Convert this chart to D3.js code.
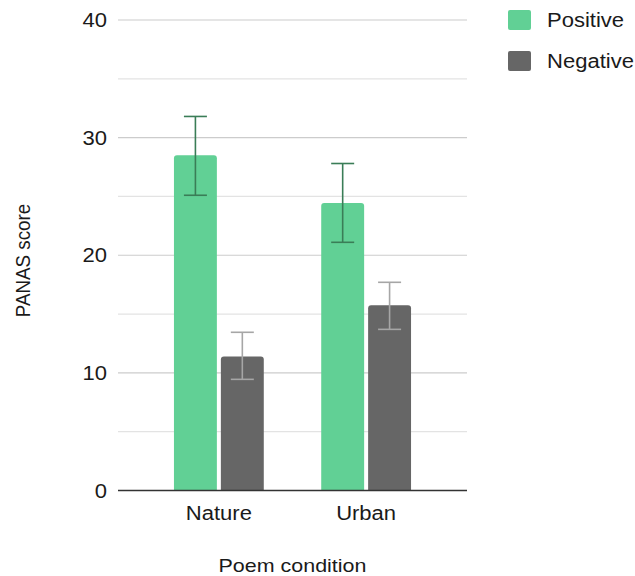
<!DOCTYPE html>
<html>
<head>
<meta charset="utf-8">
<script src="https://cdn.jsdelivr.net/npm/d3@7"></script>
<style>
  html, body { margin: 0; padding: 0; background: #fff; }
  svg { display: block; font-family: "Liberation Sans", Arial, Helvetica, sans-serif; }
</style>
</head>
<body>
<svg id="chart" width="635" height="576"></svg>
<script>
// PANAS scores by poem condition
const conditions = ["Nature", "Urban"];
const affects = ["Positive", "Negative"];
const positiveMeans = [28.5, 24.45];
const negativeMeans = [11.4, 15.75];
const positiveLow = [25.1, 21.1];
const positiveHigh = [31.8, 27.8];
const negativeLow = [9.45, 13.7];
const negativeHigh = [13.45, 17.7];
const yTicks = [0, 10, 20, 30, 40];
const yMinorTicks = [5, 15, 25, 35];

const colors = { Positive: "#61d095", Negative: "#666666" };
const errColors = { Positive: "#3a7d57", Negative: "#a6a6a6" };

const rows = conditions.map((c, i) => ({
  condition: c,
  values: [
    { key: "Positive", mean: positiveMeans[i], lo: positiveLow[i], hi: positiveHigh[i] },
    { key: "Negative", mean: negativeMeans[i], lo: negativeLow[i], hi: negativeHigh[i] }
  ]
}));

const svg = d3.select("#chart");
const plot = { left: 118, right: 467, top: 20, bottom: 490.5 };
const stretch = 1.13;   // horizontal text stretch
const fs = 19.5;

const y = d3.scaleLinear().domain([0, 40]).range([plot.bottom, plot.top]);
const x0 = d3.scaleBand().domain(conditions).range([plot.left, plot.right])
  .paddingInner(0.39).paddingOuter(0.38);
const x1 = d3.scaleBand().domain(affects).range([0, x0.bandwidth()]).paddingInner(0.085);

function label(g, x, yy, text, anchor, size) {
  return g.append("text")
    .attr("transform", `translate(${x},${yy}) scale(${stretch},1)`)
    .attr("text-anchor", anchor)
    .attr("font-size", size || fs)
    .attr("fill", "#1a1a1a")
    .text(text);
}

// gridlines
svg.append("g").selectAll("line.minor").data(yMinorTicks).join("line")
  .attr("x1", plot.left).attr("x2", plot.right)
  .attr("y1", d => y(d)).attr("y2", d => y(d))
  .attr("stroke", "#e3e3e3").attr("stroke-width", 1.2);
svg.append("g").selectAll("line.major").data(yTicks.filter(d => d > 0)).join("line")
  .attr("x1", plot.left).attr("x2", plot.right)
  .attr("y1", d => y(d)).attr("y2", d => y(d))
  .attr("stroke", "#cccccc").attr("stroke-width", 1.2);

// y tick labels
const yl = svg.append("g");
yTicks.forEach(t => label(yl, 107, y(t) + 7, String(t), "end"));

// bars with slightly rounded tops
function topRounded(x, yTop, w, h, r) {
  r = Math.min(r, h, w / 2);
  return `M${x},${yTop + h}V${yTop + r}Q${x},${yTop} ${x + r},${yTop}H${x + w - r}Q${x + w},${yTop} ${x + w},${yTop + r}V${yTop + h}Z`;
}

const groups = svg.append("g").selectAll("g").data(rows).join("g")
  .attr("transform", d => `translate(${x0(d.condition)},0)`);

groups.selectAll("path.bar").data(d => d.values).join("path")
  .attr("class", "bar")
  .attr("d", d => topRounded(x1(d.key), y(d.mean), x1.bandwidth(), y(0) - y(d.mean), 3))
  .attr("fill", d => colors[d.key]);

// error bars
const capW = 23;
const eb = groups.selectAll("g.err").data(d => d.values).join("g")
  .attr("class", "err")
  .attr("stroke", d => errColors[d.key]).attr("stroke-width", 1.6);
eb.append("line")
  .attr("x1", d => x1(d.key) + x1.bandwidth() / 2).attr("x2", d => x1(d.key) + x1.bandwidth() / 2)
  .attr("y1", d => y(d.hi)).attr("y2", d => y(d.lo));
eb.append("line")
  .attr("x1", d => x1(d.key) + x1.bandwidth() / 2 - capW / 2).attr("x2", d => x1(d.key) + x1.bandwidth() / 2 + capW / 2)
  .attr("y1", d => y(d.hi)).attr("y2", d => y(d.hi));
eb.append("line")
  .attr("x1", d => x1(d.key) + x1.bandwidth() / 2 - capW / 2).attr("x2", d => x1(d.key) + x1.bandwidth() / 2 + capW / 2)
  .attr("y1", d => y(d.lo)).attr("y2", d => y(d.lo));

// baseline
svg.append("line")
  .attr("x1", plot.left).attr("x2", plot.right)
  .attr("y1", y(0)).attr("y2", y(0))
  .attr("stroke", "#333").attr("stroke-width", 1.6);

// x labels
const xl = svg.append("g");
conditions.forEach(c => label(xl, x0(c) + x0.bandwidth() / 2, 520, c, "middle"));

// axis titles
label(svg, (plot.left + plot.right) / 2, 572, "Poem condition", "middle", 19);
svg.append("text")
  .attr("transform", `translate(30,260.5) rotate(-90) scale(0.94,1)`)
  .attr("text-anchor", "middle")
  .attr("font-size", 20)
  .attr("fill", "#1a1a1a")
  .text("PANAS score");

// legend
const lg = svg.append("g");
affects.forEach((a, i) => {
  const yy = 10 + i * 41;
  lg.append("rect").attr("x", 508).attr("y", yy).attr("width", 23).attr("height", 20)
    .attr("rx", 2).attr("fill", colors[a]);
  label(lg, 547, yy + 17, a, "start");
});
</script>
</body>
</html>
